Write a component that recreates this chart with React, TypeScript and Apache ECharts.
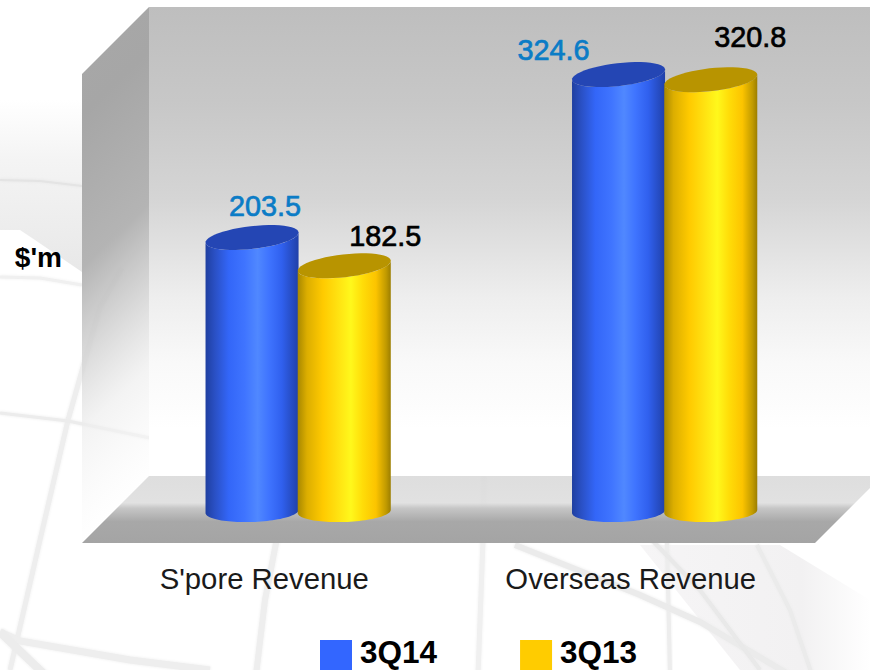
import React, { useEffect, useRef } from "react";
import * as echarts from "echarts";

const categories = ["S'pore Revenue", "Overseas Revenue"];
const seriesNames = ["3Q14", "3Q13"];
const values3Q14 = [203.5, 324.6];
const values3Q13 = [182.5, 320.8];

// hand placed value labels, relative to the top of each cylinder
const labelOffsets3Q14 = [[13, -31.5], [-65, -24.5]];
const labelOffsets3Q13 = [[41, -30], [39.5, -42.5]];

const FONT = "'Liberation Sans', Arial, sans-serif";
const capShape = { rx: 46.8, ry: 11.4, tilt: (6.5 * Math.PI) / 180 };
const baseShape = { rx: 46.55, ry: 10.6, tilt: (2 * Math.PI) / 180 };
type EllipseShape = typeof capShape;

// swatch sits in the lower part of a taller legend item, so the text rides above its centre
const legendIcon = "path://M0 0L0 0M0 7L32 7L32 37L0 37Z";

const grad = (x0: number, y0: number, x1: number, y1: number, stops: [number, string][]) =>
  new echarts.graphic.LinearGradient(x0, y0, x1, y1, stops.map(([offset, color]) => ({ offset, color })));

function ellipsePoint(s: EllipseShape, cx: number, cy: number, t: number) {
  const ex = s.rx * Math.cos(t);
  const ey = s.ry * Math.sin(t);
  return [cx + ex * Math.cos(s.tilt) + ey * Math.sin(s.tilt), cy - ex * Math.sin(s.tilt) + ey * Math.cos(s.tilt)];
}

function arc(s: EllipseShape, cx: number, cy: number, from: number, to: number) {
  const pts: number[][] = [];
  const n = 48;
  for (let i = 0; i <= n; i++) pts.push(ellipsePoint(s, cx, cy, from + ((to - from) * i) / n));
  return pts;
}

// parameter of the right-most point of an ellipse
const rightmost = (s: EllipseShape) => Math.atan2(s.ry * Math.sin(s.tilt), s.rx * Math.cos(s.tilt));

function cylinder(offset: number, bodyStops: [number, string][], capColor: string, labelColor: string, labelOffsets: number[][]) {
  return (params: any, api: any) => {
    const cat = api.value(0);
    const val = api.value(1);
    const [x, top] = api.coord([cat, val]);
    const [, base] = api.coord([cat, 0]);
    const band = api.size([1, 0])[0];
    const cx = x + offset * band;
    const tb = rightmost(baseShape);
    const tc = rightmost(capShape);
    const lower = arc(baseShape, cx, base, tb, tb + Math.PI); // right to left through the bottom
    const upper = arc(capShape, cx, top, tc + Math.PI, tc); // left to right through the cap's front
    const lo = labelOffsets[params.dataIndex];
    return {
      type: "group",
      children: [
        {
          type: "polygon",
          shape: { points: [...lower, ...upper] },
          style: { fill: grad(0, 0, 1, 0, bodyStops) },
        },
        {
          type: "polygon",
          shape: { points: arc(capShape, cx, top, 0, Math.PI * 2) },
          style: { fill: capColor },
        },
        {
          type: "text",
          style: {
            text: String(val),
            x: cx + lo[0],
            y: top + lo[1],
            align: "center",
            verticalAlign: "middle",
            fill: labelColor,
            stroke: labelColor,
            lineWidth: 0.7,
            font: `28.8px ${FONT}`,
          },
        },
      ],
    };
  };
}

const blueStops: [number, string][] = [
  [0, "#1f3fa0"], [0.1, "#2a50c4"], [0.25, "#3366f8"], [0.42, "#3f74ff"], [0.56, "#5088ff"],
  [0.68, "#3f74ff"], [0.82, "#3060ee"], [1, "#2040a8"],
];
const yellowStops: [number, string][] = [
  [0, "#a88800"], [0.1, "#dcae00"], [0.27, "#ffca00"], [0.42, "#ffe010"], [0.57, "#fff81c"],
  [0.7, "#ffdc08"], [0.84, "#fcc400"], [0.95, "#c09a00"], [1, "#9c7e00"],
];

const bgLines: { pts: number[][]; w: number; c: string }[] = [
  { pts: [[10, 670], [17, 640], [40, 540], [68, 420], [100, 307], [122, 268]], w: 5, c: "#eeeeee" },
  { pts: [[0, 413], [68, 421], [150, 438]], w: 3, c: "#ececec" },
  { pts: [[0, 277], [40, 278], [82, 285]], w: 3, c: "#f0f0f0" },
  { pts: [[0, 180], [40, 181], [82, 186]], w: 2, c: "#e4e4e4" },
  { pts: [[0, 632], [20, 641], [130, 660], [210, 670]], w: 7, c: "#eeeeee" },
  { pts: [[0, 632], [45, 675]], w: 8, c: "#ececec" },
  { pts: [[277, 538], [265, 600], [256, 675]], w: 6, c: "#eeeeee" },
  { pts: [[484, 476], [483, 540], [478, 675]], w: 5, c: "#f0f0f0" },
  { pts: [[667, 540], [670, 675]], w: 4, c: "#ededed" },
  { pts: [[515, 545], [640, 595], [700, 622], [790, 675]], w: 6, c: "#ebebeb" },
  { pts: [[757, 545], [790, 610], [812, 675]], w: 4, c: "#ebebeb" },
  { pts: [[652, 540], [700, 590], [760, 670]], w: 4, c: "#e9e9e9" },
];

function backdrop() {
  const g: any[] = [];
  g.push({
    type: "polygon",
    shape: { points: [[0, 100], [82, 100], [82, 272], [35, 240], [20, 230], [0, 230]] },
    style: { fill: grad(0, 0, 0, 1, [[0, "#ffffff"], [0.35, "#f4f4f4"], [1, "#e8e8e8"]]) },
  });
  g.push({
    type: "polygon",
    shape: { points: [[640, 545], [780, 545], [870, 600], [870, 670], [740, 670]] },
    style: { fill: grad(0, 0, 1, 0, [[0, "#f6f5f6"], [0.7, "#f2f1f2"], [1, "#ffffff"]]) },
  });
  bgLines.forEach((l) =>
    g.push({
      type: "polyline",
      shape: { points: l.pts },
      style: { stroke: l.c, lineWidth: l.w, fill: "none", shadowBlur: 3, shadowColor: l.c },
    })
  );
  // back wall
  g.push({
    type: "polygon",
    shape: { points: [[149, 7], [870, 7], [870, 476], [149, 476]] },
    style: {
      fill: grad(0, 0, 0, 1, [
        [0, "#bebebe"], [0.2, "#c7c7c7"], [0.41, "#d5d5d5"], [0.62, "#eeeeee"],
        [0.76, "#f9f9f9"], [0.9, "#ffffff"], [1, "#ffffff"],
      ]),
    },
  });
  // left wall
  g.push({
    type: "polygon",
    shape: { points: [[82, 74], [149, 7], [149, 476], [82, 543]] },
    style: {
      fill: grad(0, 0, 0.12, 1, [
        [0, "rgba(168,168,168,1)"], [0.2, "rgba(166,166,166,1)"], [0.48, "rgba(176,176,176,0.95)"],
        [0.62, "rgba(205,205,205,0.85)"], [0.78, "rgba(238,238,238,0.7)"], [1, "rgba(255,255,255,0.4)"],
      ]),
    },
  });
  // floor
  g.push({
    type: "polygon",
    shape: { points: [[149, 476], [882, 476], [815, 543], [82, 543]] },
    style: {
      fill: grad(0, 0, 0, 1, [
        [0, "rgba(218,218,218,0.9)"], [0.4, "rgba(222,222,222,0.9)"], [0.48, "#c6c6c6"],
        [0.68, "#a8a8a8"], [1, "#a4a4a4"],
      ]),
    },
  });
  return g.map((e) => ({ ...e, silent: true, z: 0 }));
}

export default function App() {
  const ref = useRef<HTMLDivElement>(null);
  useEffect(() => {
    document.body.style.margin = "0";
    const chart = echarts.init(ref.current!, null, { renderer: "svg" });
    chart.setOption({
      animation: false,
      backgroundColor: "#ffffff",
      graphic: { elements: backdrop() },
      grid: { left: 115, top: 40.4, width: 733, height: 471 },
      xAxis: {
        type: "category",
        data: categories,
        axisLine: { show: false },
        axisTick: { show: false },
        axisLabel: {
          interval: 0,
          margin: 53,
          fontFamily: FONT,
          fontSize: 29.3,
          color: "#1a1a1a",
          padding: [0, 68, 0, 0],
        },
      },
      yAxis: {
        type: "value",
        min: 0,
        max: 350,
        name: "$'m",
        nameLocation: "middle",
        nameRotate: 0,
        nameGap: 53,
        nameTextStyle: {
          fontFamily: FONT,
          fontSize: 28,
          fontWeight: "bold",
          color: "#000000",
          verticalAlign: "bottom",
          lineHeight: 36,
        },
        axisLine: { show: false },
        axisTick: { show: false },
        axisLabel: { show: false },
        splitLine: { show: false },
      },
      legend: {
        left: 320,
        top: 633,
        padding: 0,
        itemWidth: 32,
        itemHeight: 37,
        itemGap: 83,
        selectedMode: false,
        textStyle: {
          fontFamily: FONT,
          fontSize: 31.5,
          fontWeight: "bold",
          color: "#000000",
          lineHeight: 30,
          padding: [0, 0, 0, 3],
        },
        data: [
          { name: seriesNames[0], icon: legendIcon, itemStyle: { color: "#3366ff" } },
          { name: seriesNames[1], icon: legendIcon, itemStyle: { color: "#ffcc00" } },
        ],
      },
      series: [
        {
          type: "custom",
          name: seriesNames[0],
          data: values3Q14.map((v, i) => [i, v]),
          encode: { x: 0, y: 1 },
          clip: false,
          z: 3,
          renderItem: cylinder(-46.2 / 366.5, blueStops, "#2446b4", "#0b7cc6", labelOffsets3Q14),
        },
        {
          type: "custom",
          name: seriesNames[1],
          data: values3Q13.map((v, i) => [i, v]),
          encode: { x: 0, y: 1 },
          clip: false,
          z: 4,
          renderItem: cylinder(46 / 366.5, yellowStops, "#b89400", "#000000", labelOffsets3Q13),
        },
      ],
    });
    return () => chart.dispose();
  }, []);
  return <div ref={ref} style={{ position: "absolute", left: 0, top: 0, width: 870, height: 670 }} />;
}
